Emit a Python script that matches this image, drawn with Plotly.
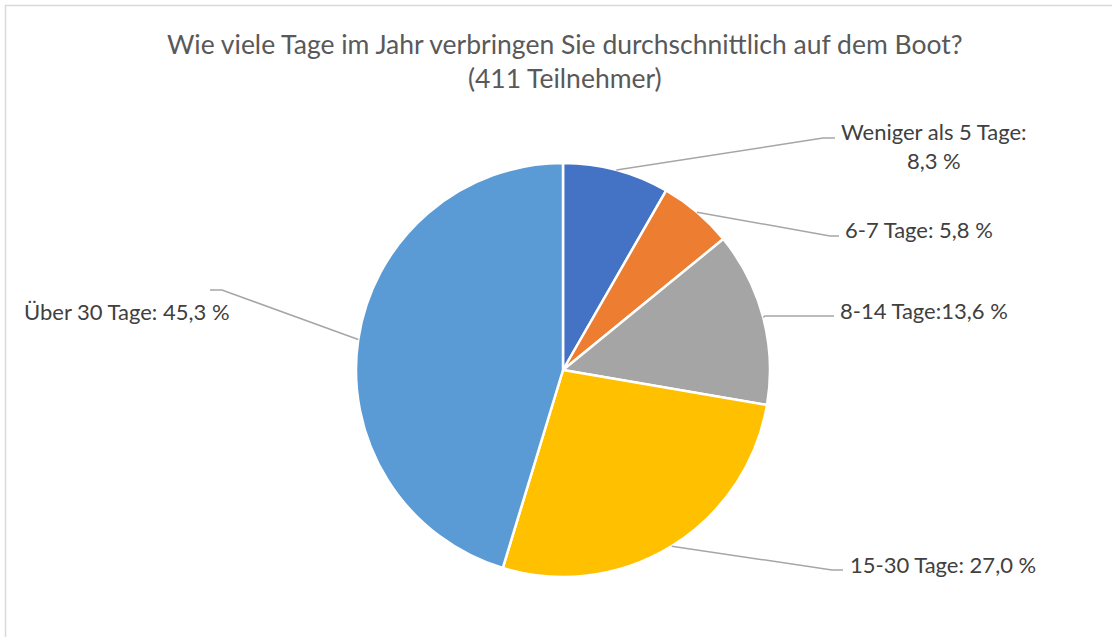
import math
import plotly.graph_objects as go

# ---- data ----
categories = ["Weniger als 5 Tage", "6-7 Tage", "8-14 Tage", "15-30 Tage", "Über 30 Tage"]
shares = [8.3, 5.8, 13.6, 27.0, 45.3]
label_texts = ["Weniger als 5 Tage:<br>8,3 %", "6-7 Tage: 5,8 %", "8-14 Tage:13,6 %",
               "15-30 Tage: 27,0 %", "Über 30 Tage: 45,3 %"]
colors = ["#4472C4", "#ED7D31", "#A5A5A5", "#FFC000", "#5B9BD5"]
title_lines = ["Wie viele Tage im Jahr verbringen Sie durchschnittlich auf dem Boot?",
               "(411 Teilnehmer)"]

W, H = 1112, 637
CX, CY, R = 563, 370, 207  # pie centre / radius in px

def px(x):
    return x / W

def py(y):
    return 1 - y / H

FONT = "Lato, Calibri, 'Open Sans', sans-serif"

fig = go.Figure(go.Pie(
    labels=categories,
    values=shares,
    sort=False,
    direction="clockwise",
    rotation=0,
    marker=dict(colors=colors, line=dict(color="white", width=2.5)),
    textinfo="none",
    hoverinfo="label+percent",
    domain=dict(x=[px(CX - R), px(CX + R)], y=[py(CY + R), py(CY - R)]),
    showlegend=False,
))

# label anchor positions (layout): (elbow x, elbow y, end x, text x, text y, xanchor)
label_layout = [
    (823, 138, 835, 934, 146, "center"),
    (830, 236, 839, 843, 229, "left"),
    (765, 316, 834, 838, 310, "left"),
    (832, 570, 843, 848, 564, "left"),
    (222, 290, 210, 22, 311, "left"),
]

shapes = []
annotations = []
total = sum(shares)
cum = 0.0
for i, v in enumerate(shares):
    mid = (cum + v / 2) / total * 2 * math.pi
    cum += v
    sx = CX + R * math.sin(mid)
    sy = CY - R * math.cos(mid)
    ex, ey, endx, tx, ty, xa = label_layout[i]
    path = f"M {px(sx)},{py(sy)} L {px(ex)},{py(ey)} L {px(endx)},{py(ey)}"
    shapes.append(dict(type="path", xref="paper", yref="paper", path=path,
                       line=dict(color="#A6A6A6", width=1.5)))
    annotations.append(dict(x=px(tx), y=py(ty), xref="paper", yref="paper",
                            text=label_texts[i], showarrow=False, xanchor=xa,
                            yanchor="middle", align="center",
                            font=dict(family=FONT, size=22, color="#404040")))

annotations.append(dict(x=px(565), y=py(61), xref="paper", yref="paper",
                        text="<br>".join(title_lines), showarrow=False,
                        xanchor="center", yanchor="middle", align="center",
                        font=dict(family=FONT, size=26.5, color="#595959")))

shapes.append(dict(type="rect", xref="paper", yref="paper",
                   x0=px(5.5), x1=px(W + 20), y0=py(5.5), y1=py(H + 20),
                   line=dict(color="#D9D9D9", width=1.5)))

fig.update_layout(
    width=W, height=H,
    margin=dict(l=0, r=0, t=0, b=0),
    paper_bgcolor="white",
    plot_bgcolor="white",
    shapes=shapes,
    annotations=annotations,
)

fig.write_html("out.html",
               config={"displayModeBar": False},
               post_script="document.body.style.margin='0';document.body.style.overflow='hidden';")
